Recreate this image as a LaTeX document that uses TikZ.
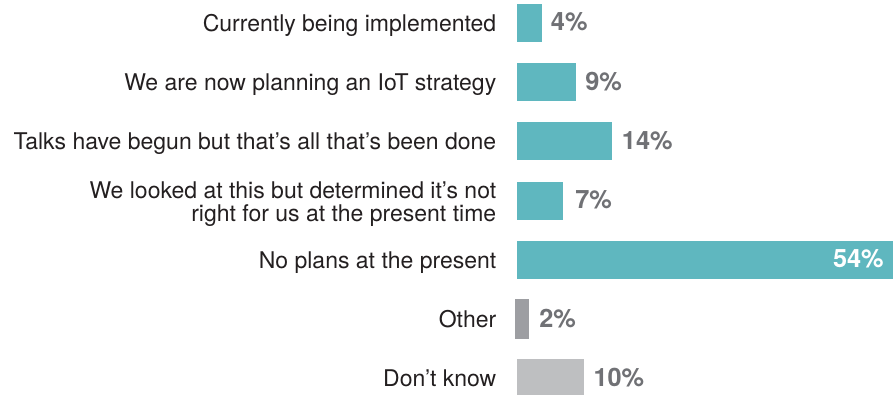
\documentclass[tikz,border=0pt]{standalone}
\usepackage{fontspec}
\setmainfont{TeX Gyre Heros}
\usepackage{tikz}
\usetikzlibrary{positioning}
\definecolor{barteal}{RGB}{95,183,191}
\definecolor{bargray}{RGB}{157,158,162}
\definecolor{barlight}{RGB}{190,191,193}
\definecolor{pctgray}{RGB}{112,113,117}
\definecolor{labelblack}{RGB}{35,31,32}
\tikzset{
  answer/.style={anchor=base east,inner sep=0pt,text=labelblack,font=\fontsize{17.25}{17.2}\selectfont},
  pct/.style={anchor=base west,inner sep=0pt,text=pctgray,font=\bfseries\fontsize{19}{19}\selectfont},
  tealbar/.style={fill=barteal,draw=none},
}
\begin{document}
\begin{tikzpicture}[x=0.75pt,y=0.75pt,yscale=-1,xscale=1]
        \useasboundingbox (0,0) rectangle (893,395);
        %Shape: Rectangle [id:bar-curr]
        \draw [tealbar] (516.7,4) rectangle (542.3,42) ;
        %Shape: Rectangle [id:bar-plan]
        \draw [tealbar] (516.7,63.3) rectangle (576.3,101) ;
        %Shape: Rectangle [id:bar-talks]
        \draw [tealbar] (516.7,122.3) rectangle (611.7,160.3) ;
        %Shape: Rectangle [id:bar-looked]
        \draw [tealbar] (516.7,181.7) rectangle (563.3,220) ;
        %Shape: Rectangle [id:bar-noplan]
        \draw [tealbar] (516.7,241) rectangle (893,278.7) ;
        %Shape: Rectangle [id:bar-other]
        \draw [fill=bargray,draw=none] (515.3,299) rectangle (529,339.5) ;
        %Shape: Rectangle [id:bar-dontknow]
        \draw [fill=barlight,draw=none] (516.7,359.3) rectangle (583.7,397) ;
        % Text Node
        \node [answer] (curr) at (496.5,31.3) {Currently being implemented};
        % Text Node
        \node [answer] (plan) at (496.5,90.5) {We are now planning an IoT strategy};
        % Text Node
        \node [answer] (talks) at (496.5,149.6) {Talks have begun but that’s all that’s been done};
        % Text Node
        \node [answer,anchor=east,align=right] (looked) at (496.5,204.5) {We looked at this but determined it’s not\\right for us at the present time};
        % Text Node
        \node [answer] (noplan) at (496.5,268.2) {No plans at the present};
        % Text Node
        \node [answer] (other) at (496.5,327.6) {Other};
        % Text Node
        \node [answer] (dontknow) at (496.5,386.8) {Don’t know};
        % Text Node
        \node [pct] (curr-pct) at (550.7,31) {4\%};
        % Text Node
        \node [pct] (plan-pct) at (585,90.2) {9\%};
        % Text Node
        \node [pct] (talks-pct) at (621.7,149.3) {14\%};
        % Text Node
        \node [pct] (looked-pct) at (575,208.8) {7\%};
        % Text Node
        \node [pct,anchor=base east,text=white] (noplan-pct) at (884,267.9) {54\%};
        % Text Node
        \node [pct] (other-pct) at (539,327.3) {2\%};
        % Text Node
        \node [pct] (dontknow-pct) at (593.3,386.5) {10\%};
\end{tikzpicture}
\end{document}
